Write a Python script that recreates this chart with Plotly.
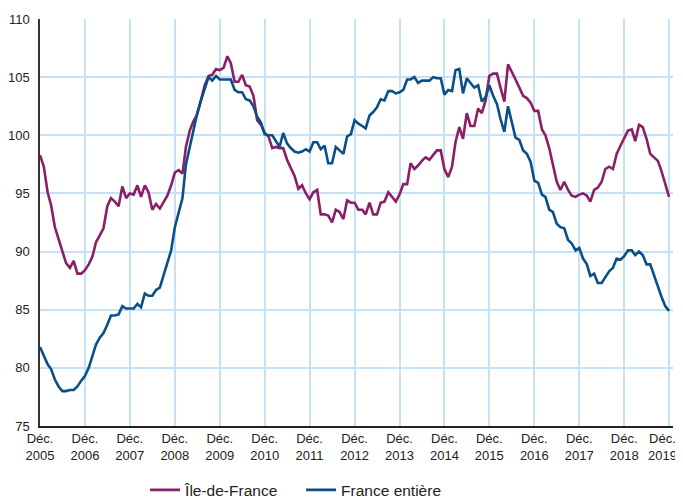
import pandas as pd
import plotly.graph_objects as go

# Monthly index, Dec 2005 .. Dec 2019
months = pd.date_range("2005-12-01", "2019-12-01", freq="MS")

idf = [
    98.3, 97.3, 95.1, 94.0, 92.1, 91.1, 89.9, 89.0, 88.6, 89.2, 88.1, 88.1,
    88.4, 88.9, 89.6, 90.8, 91.4, 92.0, 93.9, 94.6, 94.3, 93.9, 95.6, 94.6,
    95.0, 94.9, 95.7, 94.7, 95.7, 95.1, 93.6, 94.1, 93.7, 94.2, 94.8, 95.7,
    96.8, 97.0, 96.7, 99.0, 100.4, 101.2, 101.8, 103.0, 104.3, 105.1, 105.2, 105.7,
    105.6, 105.8, 106.8, 106.2, 104.6, 104.6, 105.2, 104.3, 104.2, 103.4, 101.3, 100.9,
    100.2, 99.9, 98.9, 99.0, 98.9, 98.9, 97.9, 97.2, 96.5, 95.4, 95.7, 95.0,
    94.5, 95.1, 95.3, 93.2, 93.2, 93.1, 92.5, 93.6, 93.4, 92.8, 94.4, 94.2,
    94.2, 93.6, 93.6, 93.2, 94.2, 93.2, 93.2, 94.2, 94.3, 95.1, 94.7, 94.3,
    94.9, 95.8, 95.8, 97.6, 97.1, 97.4, 97.8, 98.1, 97.9, 98.3, 98.7, 98.7,
    97.1, 96.4, 97.3, 99.4, 100.7, 99.7, 101.9, 100.8, 100.8, 102.3, 101.9, 103.0,
    105.1, 105.3, 105.3, 104.1, 102.9, 106.1, 105.5, 104.8, 104.1, 103.4, 103.2, 102.8,
    102.1, 102.1, 100.5, 100.0, 98.9, 97.4, 96.0, 95.3, 96.0, 95.3, 94.8, 94.7,
    94.9, 95.0, 94.8, 94.3, 95.3, 95.5, 96.0, 97.1, 97.3, 97.1, 98.4, 99.1,
    99.8, 100.4, 100.5, 99.5, 100.9, 100.7, 99.7, 98.4, 98.1, 97.8, 96.9, 95.7,
    94.7,
]

france = [
    81.8, 81.1, 80.3, 79.9, 79.0, 78.4, 78.0, 78.0, 78.1, 78.1, 78.4, 78.9,
    79.3, 80.0, 81.1, 82.0, 82.6, 83.0, 83.7, 84.5, 84.5, 84.6, 85.3, 85.1,
    85.1, 85.1, 85.5, 85.2, 86.4, 86.2, 86.2, 86.7, 86.9, 88.0, 89.1, 90.1,
    92.1, 93.3, 94.6, 97.5, 99.0, 100.6, 101.9, 103.0, 104.0, 105.0, 104.7, 105.1,
    104.8, 104.8, 104.8, 104.8, 103.9, 103.7, 103.7, 103.1, 103.0, 102.5, 101.6, 101.1,
    100.1, 100.0, 100.0, 99.5, 99.0, 100.2, 99.3, 98.9, 98.6, 98.5, 98.6, 98.8,
    98.6, 99.4, 99.4, 98.8, 99.1, 97.6, 97.6, 99.0, 98.7, 98.4, 99.9, 100.1,
    101.3, 101.0, 100.8, 100.6, 101.7, 102.0, 102.4, 103.1, 103.0, 103.8, 103.8, 103.6,
    103.7, 103.9, 104.8, 104.8, 105.0, 104.5, 104.7, 104.7, 104.7, 105.0, 104.9, 104.9,
    103.5, 103.9, 103.8, 105.6, 105.7, 103.6, 104.9, 104.5, 104.1, 104.3, 102.9, 103.3,
    104.3, 103.4, 102.7, 101.4, 100.3, 102.5, 101.1, 99.8, 99.6, 98.7, 98.4, 97.7,
    96.1, 95.9, 94.9, 94.7, 93.6, 93.4, 92.4, 92.1, 92.0, 91.0, 90.7, 90.1,
    90.3, 89.4, 88.9, 87.9, 88.1, 87.3, 87.3, 87.8, 88.3, 88.6, 89.4, 89.3,
    89.6, 90.1, 90.1, 89.7, 90.0, 89.7, 88.9, 88.9, 87.9, 87.1, 86.1, 85.3,
    84.9,
]

tick_dates = pd.date_range("2005-12-01", "2019-12-01", freq="12MS")
tick_text = ["Déc.<br>%d" % d.year for d in tick_dates]
y_ticks = [75, 80, 85, 90, 95, 100, 105, 110]

PURPLE = "#8b1f66"
BLUE = "#0b4f88"
GRID = "#c4e1f5"
TEXT = "#222222"
FONT = "Liberation Sans, Arial, sans-serif"

fig = go.Figure()
fig.add_trace(go.Scatter(x=months, y=idf, mode="lines", name="Île-de-France",
                         line=dict(color=PURPLE, width=2.6)))
fig.add_trace(go.Scatter(x=months, y=france, mode="lines", name="France entière",
                         line=dict(color=BLUE, width=2.6)))

# reference line at 100
fig.add_hline(y=100, line=dict(color="#555555", width=1.5), layer="below")

# The last tick label sits at the page edge: draw it as an annotation nudged left
axis_labels = list(tick_text)
axis_labels[-1] = ""
fig.add_annotation(x=tick_dates[-1], xref="x", y=0, yref="paper",
                   text=tick_text[-1], showarrow=False, xanchor="center",
                   yanchor="top", xshift=-7, yshift=-3, align="center",
                   font=dict(family=FONT, size=13, color=TEXT))

# The page body has an 8px margin, so the figure is sized to fit the window.
fig.update_layout(
    width=675, height=491,
    margin=dict(l=32, r=10, t=11, b=73, autoexpand=False),
    paper_bgcolor="white", plot_bgcolor="white",
    font=dict(family=FONT, size=13, color=TEXT),
    showlegend=True,
    legend=dict(orientation="h", x=0.166, xanchor="left", y=-0.158, yanchor="middle",
                font=dict(size=15.5, color=TEXT), traceorder="normal",
                itemwidth=30, entrywidth=111, entrywidthmode="pixels"),
)
fig.update_xaxes(
    range=["2005-12-01", "2020-01-02"],
    tickvals=tick_dates, ticktext=axis_labels, tickangle=0,
    showgrid=True, gridcolor=GRID, gridwidth=1.5,
    showline=True, linecolor="#222222", linewidth=1.5,
    ticks="", zeroline=False, automargin=False,
)
fig.update_yaxes(
    range=[75, 110], tickvals=y_ticks,
    showgrid=True, gridcolor=GRID, gridwidth=1.5,
    showline=True, linecolor="#333333", linewidth=1.5,
    ticks="", zeroline=False, ticklabelstandoff=6, automargin=False,
)

fig.write_html("out.html")
